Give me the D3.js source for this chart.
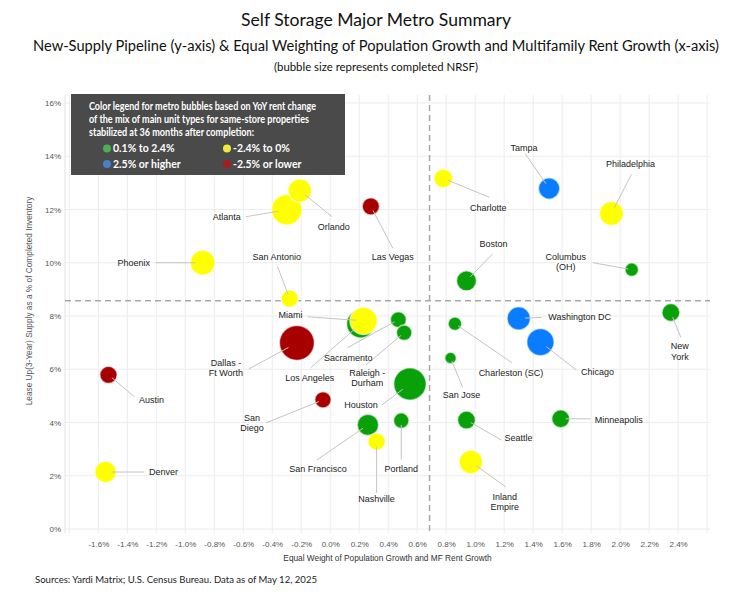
<!DOCTYPE html>
<html>
<head>
<meta charset="utf-8">
<script src="https://cdn.jsdelivr.net/npm/d3@7"></script>
<style>
  body { margin: 0; background: #fff; }
  svg { display: block; }
</style>
</head>
<body>
<div id="chart"></div>
<script>
// metro bubbles: growth (x, %), lease-up supply (y, %), completed NRSF (millions sq ft), rent band
const metros = ['Orlando', 'Atlanta', 'Phoenix', 'San Antonio', 'Miami', 'Los Angeles', 'Sacramento',
  'Raleigh -|Durham', 'Dallas -|Ft Worth', 'San|Diego', 'Houston', 'San Francisco', 'Nashville', 'Portland',
  'San Jose', 'Las Vegas', 'Charlotte', 'Tampa', 'Philadelphia', 'Boston', 'Columbus|(OH)', 'Washington DC',
  'New|York', 'Charleston (SC)', 'Chicago', 'Minneapolis', 'Seattle', 'Inland|Empire', 'Austin', 'Denver'];
const growth = [-0.21, -0.30, -0.88, -0.28, 0.23, 0.21, 0.47, 0.51, -0.23, -0.05, 0.55, 0.26, 0.32, 0.49,
  0.83, 0.28, 0.78, 1.51, 1.94, 0.94, 2.08, 1.30, 2.35, 0.86, 1.45, 1.59, 0.94, 0.97, -1.53, -1.55];
const supply = [12.71, 11.99, 10.00, 8.65, 7.82, 7.71, 7.86, 7.37, 6.99, 4.85, 5.45, 3.91, 3.28, 4.07,
  6.42, 12.12, 13.17, 12.79, 11.85, 9.32, 9.74, 7.91, 8.13, 7.71, 7.02, 4.14, 4.09, 2.52, 5.79, 2.14];
const nrsf = [49, 84, 55, 27, 67, 72, 23, 21.7, 110, 24, 95, 41, 27, 21.7,
  12, 27, 32, 41, 51, 36, 16.6, 49, 29, 16.6, 67, 29, 29, 49, 27, 41];
const band = ['y', 'y', 'y', 'y', 'y', 'g', 'g', 'g', 'r', 'r', 'g', 'g', 'y', 'g',
  'g', 'r', 'y', 'b', 'y', 'g', 'g', 'b', 'g', 'g', 'b', 'g', 'g', 'y', 'r', 'y'];

// reference lines (averages)
const avgSupply = 8.57;
const avgGrowth = 0.685;

const xTicks = d3.range(-1.6, 2.41, 0.2).map(v => Math.round(v * 10) / 10);
const yTicks = d3.range(0, 16.1, 2);

const legendItems = [
  { key: 'g', text: '0.1% to 2.4%' },
  { key: 'y', text: '-2.4% to 0%' },
  { key: 'b', text: '2.5% or higher' },
  { key: 'r', text: '-2.5% or lower' }
];

// label placement, pixel offsets from bubble centre: label centre [lx, ly], leader end [ex, ey]
const labelPlace = {
  'Orlando': [34, 36, 32, 26], 'Atlanta': [-60, 7, -41, 7], 'Phoenix': [-69, 0, -47, 0],
  'San Antonio': [-13, -42, -12, -32], 'Miami': [-73, -6, -56, -4], 'Los Angeles': [-51, 54, -50, 44],
  'Sacramento': [-50, 38, -51, 28], 'Raleigh -|Durham': [-37, 45, -38, 32], 'Dallas -|Ft Worth': [-71, 25, -48, 26],
  'San|Diego': [-71, 23, -57, 23], 'Houston': [-49, 21, -28, 21], 'San Francisco': [-50, 44, -51, 35],
  'Nashville': [0, 57, 0, 51], 'Portland': [0, 48, 0, 39], 'San Jose': [11, 37, 12, 29],
  'Las Vegas': [22, 51, 22, 42], 'Charlotte': [45, 29, 46, 19], 'Tampa': [-25, -41, -24, -35],
  'Philadelphia': [19, -50, 20, -39], 'Boston': [27, -37, 26, -27], 'Columbus|(OH)': [-66, -8, -39, -7],
  'Washington DC': [61, -2, 23, -1], 'New|York': [9, 39, 10, 25], 'Charleston (SC)': [56, 49, 57, 39],
  'Chicago': [57, 30, 36, 28], 'Minneapolis': [58, 1, 30, 0], 'Seattle': [52, 18, 35, 20],
  'Inland|Empire': [34, 40, 35, 25], 'Austin': [43, 25, 26, 22], 'Denver': [58, 0, 39, 0]
};

const bubbleColor = { g: '#0aa00a', y: '#ffff00', b: '#0a7cff', r: '#a80000' };
const legendColor = { g: '#4caf50', y: '#f2e83a', b: '#4a7fc8', r: '#a71c1c' };

const width = 735, height = 595;
const plot = { left: 65, right: 710, top: 95, bottom: 533 };

const svg = d3.select('#chart').append('svg')
  .attr('width', width)
  .attr('height', height);

const x = d3.scaleLinear().domain([-1.83, 2.62]).range([plot.left, plot.right]);
const y = d3.scaleLinear().domain([-0.15, 16.3]).range([plot.bottom, plot.top]);
const r = d3.scaleSqrt().domain([0, 110]).range([0, 17.5]);

const titleFont = 'Lato, "Open Sans", sans-serif';
const axisFont = '"Liberation Sans", Arial, sans-serif';

// Titulos
const titles = [
  { t: 'Self Storage Major Metro Summary', y: 26, size: 17.5, w: 270 },
  { t: 'New-Supply Pipeline (y-axis) & Equal Weighting of Population Growth and Multifamily Rent Growth (x-axis)', y: 51, size: 14.5, w: 686 },
  { t: '(bubble size represents completed NRSF)', y: 71, size: 11.5, w: 204 }
];
svg.selectAll('text.title').data(titles).enter().append('text')
  .attr('class', 'title')
  .attr('x', 376).attr('y', d => d.y)
  .attr('text-anchor', 'middle')
  .attr('font-family', titleFont)
  .attr('font-size', d => d.size)
  .attr('fill', '#111')
  .attr('textLength', d => d.w)
  .attr('lengthAdjust', 'spacingAndGlyphs')
  .text(d => d.t);

// Grade
const grid = svg.append('g');
grid.selectAll('line.gx').data(d3.range(-1.8, 2.61, 0.2)).enter().append('line')
  .attr('x1', d => x(d)).attr('x2', d => x(d))
  .attr('y1', plot.top).attr('y2', plot.bottom)
  .attr('stroke', '#ececec').attr('stroke-width', 1);
grid.selectAll('line.gy').data(yTicks).enter().append('line')
  .attr('x1', plot.left).attr('x2', plot.right)
  .attr('y1', d => y(d)).attr('y2', d => y(d))
  .attr('stroke', '#ececec').attr('stroke-width', 1);
grid.append('line')
  .attr('x1', plot.left).attr('x2', plot.left)
  .attr('y1', plot.top).attr('y2', plot.bottom)
  .attr('stroke', '#e2e2e2');

// Eixos
const xAxis = svg.append('g')
  .attr('transform', `translate(0,${plot.bottom})`)
  .call(d3.axisBottom(x).tickValues(xTicks).tickSize(0).tickPadding(8)
    .tickFormat(d => d.toFixed(1) + '%'));
const yAxis = svg.append('g')
  .attr('transform', `translate(${plot.left},0)`)
  .call(d3.axisLeft(y).tickValues(yTicks).tickSize(0).tickPadding(4)
    .tickFormat(d => d + '%'));
[xAxis, yAxis].forEach(a => {
  a.select('.domain').remove();
  a.selectAll('text').attr('font-family', axisFont).attr('font-size', 8).attr('fill', '#555');
});

svg.append('text')
  .attr('x', (plot.left + plot.right) / 2).attr('y', 561)
  .attr('text-anchor', 'middle')
  .attr('font-family', axisFont).attr('font-size', 8.3).attr('fill', '#333')
  .text('Equal Weight of Population Growth and MF Rent Growth');
svg.append('text')
  .attr('transform', 'translate(32,301) rotate(-90)')
  .attr('text-anchor', 'middle')
  .attr('font-family', axisFont).attr('font-size', 8.3).attr('fill', '#555')
  .text('Lease Up(3-Year) Supply as a % of Completed Inventory');

// Linhas de referencia
svg.append('line')
  .attr('x1', plot.left).attr('x2', plot.right)
  .attr('y1', y(avgSupply)).attr('y2', y(avgSupply))
  .attr('stroke', '#a8a8a8').attr('stroke-width', 1.5).attr('stroke-dasharray', '6,4');
svg.append('line')
  .attr('x1', x(avgGrowth)).attr('x2', x(avgGrowth))
  .attr('y1', plot.top).attr('y2', plot.bottom)
  .attr('stroke', '#a8a8a8').attr('stroke-width', 1.5).attr('stroke-dasharray', '6,4');

// Bolhas
const data = metros.map((m, i) => ({
  name: m, gx: growth[i], sy: supply[i], size: nrsf[i], band: band[i]
}));
data.forEach(d => {
  d.cx = x(d.gx); d.cy = y(d.sy); d.r = r(d.size);
  const p = labelPlace[d.name];
  d.lx = d.cx + p[0]; d.ly = d.cy + p[1];
  d.ex = d.cx + p[2]; d.ey = d.cy + p[3];
  const dist = Math.hypot(p[2], p[3]) || 1;
  d.sx = d.cx + p[2] / dist * d.r * 0.55;
  d.sy2 = d.cy + p[3] / dist * d.r * 0.55;
});

svg.append('g').selectAll('circle')
  .data(data.slice().sort((a, b) => b.size - a.size))
  .enter().append('circle')
  .attr('cx', d => d.cx).attr('cy', d => d.cy).attr('r', d => d.r)
  .attr('fill', d => bubbleColor[d.band])
  .attr('stroke', '#fff').attr('stroke-opacity', 0.6).attr('stroke-width', 1.5);

svg.append('g').selectAll('line')
  .data(data).enter().append('line')
  .attr('x1', d => d.sx).attr('y1', d => d.sy2)
  .attr('x2', d => d.ex).attr('y2', d => d.ey)
  .attr('stroke', '#c4c4c4').attr('stroke-width', 1);

const labels = svg.append('g').selectAll('text')
  .data(data).enter().append('text')
  .attr('text-anchor', 'middle')
  .attr('font-family', axisFont).attr('font-size', 9).attr('fill', '#222');
labels.each(function (d) {
  const lines = d.name.split('|');
  const t = d3.select(this);
  lines.forEach((ln, k) => {
    t.append('tspan')
      .attr('x', d.lx)
      .attr('y', d.ly + 3.2 + (k - (lines.length - 1) / 2) * 10.5)
      .text(ln);
  });
});

// Legenda
const lg = svg.append('g');
lg.append('rect')
  .attr('x', 71).attr('y', 94).attr('width', 274).attr('height', 81)
  .attr('fill', '#4a4a4a');
const legendLines = [
  { t: 'Color legend for metro bubbles based on YoY rent change', w: 227 },
  { t: 'of the mix of main unit types for same-store properties', w: 220 },
  { t: 'stabilized at 36 months after completion:', w: 165 }
];
lg.selectAll('text.lh').data(legendLines).enter().append('text')
  .attr('x', 89).attr('y', (d, i) => 109.5 + i * 13)
  .attr('font-family', titleFont).attr('font-weight', 'bold').attr('font-size', 10.5)
  .attr('fill', '#fff')
  .attr('textLength', d => d.w).attr('lengthAdjust', 'spacingAndGlyphs')
  .text(d => d.t);
const li = lg.selectAll('g.item').data(legendItems).enter().append('g')
  .attr('transform', (d, i) => `translate(${i % 2 ? 227 : 107},${i < 2 ? 148.5 : 164})`);
li.append('circle').attr('r', 4).attr('fill', d => legendColor[d.key]);
li.append('text')
  .attr('x', 6).attr('y', 3.8)
  .attr('font-family', titleFont).attr('font-weight', 'bold').attr('font-size', 10.5)
  .attr('fill', '#fff')
  .text(d => d.text);

// Fonte
svg.append('text')
  .attr('x', 35).attr('y', 583)
  .attr('font-family', titleFont).attr('font-size', 9.2).attr('fill', '#222')
  .attr('textLength', 282).attr('lengthAdjust', 'spacingAndGlyphs')
  .text('Sources: Yardi Matrix; U.S. Census Bureau. Data as of May 12, 2025');
</script>
</body>
</html>
